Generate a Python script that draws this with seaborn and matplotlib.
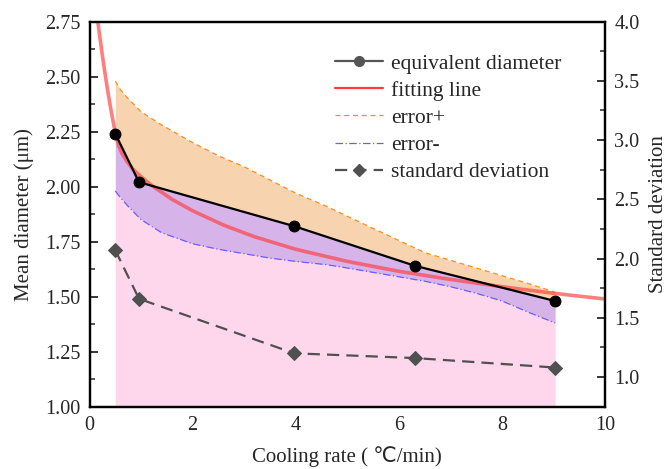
import numpy as np
import pandas as pd
import matplotlib
matplotlib.use("Agg")
import matplotlib.pyplot as plt
import seaborn as sns
from matplotlib.lines import Line2D
from matplotlib.ticker import MultipleLocator, FormatStrFormatter

# ---- data ----
cooling_rate = [0.5, 0.96, 3.97, 6.31, 9.03]
mean_diameter = [2.24, 2.02, 1.82, 1.64, 1.48]
std_dev = [2.07, 1.66, 1.20, 1.16, 1.08]

fit_x = [0.16, 0.20, 0.25, 0.30, 0.35, 0.40, 0.45, 0.50, 0.56, 0.63, 0.72, 0.85,
         1.00, 1.15, 1.30, 1.60, 2.00, 2.60, 3.20, 4.00, 5.00, 6.00, 7.00, 8.00,
         9.00, 10.0]
fit_y = [2.75, 2.68, 2.595, 2.515, 2.44, 2.37, 2.305, 2.245, 2.19, 2.15, 2.116, 2.077,
         2.045, 2.015, 1.99, 1.942, 1.89, 1.825, 1.772, 1.715, 1.66, 1.615, 1.578, 1.545,
         1.515, 1.489]

err_x = [0.5, 0.6, 0.75, 1.0, 1.4, 2.0, 2.5, 3.0, 3.5, 4.0, 4.6, 5.0, 5.5,
         6.0, 6.5, 7.0, 7.5, 8.0, 8.5, 9.03]
err_plus = [2.48, 2.44, 2.40, 2.34, 2.28, 2.20, 2.14, 2.09, 2.03, 1.97, 1.91, 1.865, 1.81,
            1.755, 1.70, 1.665, 1.63, 1.595, 1.56, 1.52]
err_minus = [1.98, 1.95, 1.91, 1.85, 1.79, 1.74, 1.715, 1.695, 1.675, 1.66, 1.645, 1.63, 1.61,
             1.59, 1.57, 1.545, 1.515, 1.48, 1.43, 1.38]

legend_labels = ["equivalent diameter", "fitting line", "error+", "error-", "standard deviation"]

# ---- style ----
sns.set_style("ticks")
plt.rcParams["font.family"] = ["Liberation Serif", "DejaVu Sans"]
FS_TICK = 14.5
FS_LAB = 15
FS_LEG = 15.5

fig = plt.figure(figsize=(6.68, 4.69), dpi=100)
ax = fig.add_axes([0.134, 0.133, 0.772, 0.821])

# fills
diam_on_err = np.interp(err_x, cooling_rate, mean_diameter)
ax.fill_between(err_x, diam_on_err, err_plus, color="#F8D3B0", lw=0, zorder=1)
ax.fill_between(err_x, err_minus, diam_on_err, color="#D6B4EA", lw=0, zorder=1)
ax.fill_between(err_x, 1.0, err_minus, color="#FFD7EC", lw=0, zorder=1)

ERR_P_STYLE = (0, (4, 3))
ERR_M_STYLE = (0, (6, 2, 1, 2))
STD_STYLE = (0, (5.5, 3.2))

df_err = pd.DataFrame({"x": err_x, "plus": err_plus, "minus": err_minus})
sns.lineplot(data=df_err, x="x", y="plus", ax=ax, color="#FF8C1A", lw=0.9,
             linestyle=ERR_P_STYLE, zorder=2, sort=False)
sns.lineplot(data=df_err, x="x", y="minus", ax=ax, color="#6A5CFF", lw=0.9,
             linestyle=ERR_M_STYLE, zorder=2, sort=False)

df_fit = pd.DataFrame({"x": fit_x, "y": fit_y})
sns.lineplot(data=df_fit, x="x", y="y", ax=ax, color="#FF3B3B", alpha=0.65, lw=2.6,
             zorder=3, sort=False)

df_d = pd.DataFrame({"x": cooling_rate, "d": mean_diameter, "s": std_dev})
sns.lineplot(data=df_d, x="x", y="d", ax=ax, color="black", lw=1.6, marker="o",
             markersize=7.8, markeredgecolor="black", zorder=4, sort=False)

ax.set_xlim(0, 10)
ax.set_ylim(1.0, 2.75)
ax.xaxis.set_major_locator(MultipleLocator(2))
ax.xaxis.set_minor_locator(MultipleLocator(1))
ax.yaxis.set_major_locator(MultipleLocator(0.25))
ax.yaxis.set_minor_locator(MultipleLocator(0.125))
ax.yaxis.set_major_formatter(FormatStrFormatter("%.2f"))
ax.set_xlabel("Cooling rate ( \u2103/min)", fontsize=FS_LAB, labelpad=8)
ax.set_ylabel("Mean diameter (\u03bcm)", fontsize=FS_LAB, labelpad=8)

ax2 = ax.twinx()
sns.lineplot(data=df_d, x="x", y="s", ax=ax2, color="#505050", lw=1.6,
             linestyle=STD_STYLE, marker="D", markersize=7, markeredgecolor="#505050",
             sort=False)
ax2.set_ylim(0.75, 4.0)
ax2.yaxis.set_major_locator(MultipleLocator(0.5))
ax2.yaxis.set_minor_locator(MultipleLocator(0.25))
ax2.yaxis.set_major_formatter(FormatStrFormatter("%.1f"))
ax2.set_ylabel("Standard deviation", fontsize=FS_LAB, labelpad=7)
ax2.set_xlabel("")

for a in (ax, ax2):
    for s in a.spines.values():
        s.set_linewidth(1.6)
        s.set_color("black")
        s.set_visible(True)
    a.tick_params(which="major", direction="in", length=6, width=1.3,
                  labelsize=FS_TICK, pad=6.5)
    a.tick_params(which="minor", direction="in", length=3.5, width=1.1)
ax.tick_params(axis="both", which="both", top=False, right=False)
ax2.tick_params(axis="y", which="both", left=False, right=True)

handles = [
    Line2D([], [], color="#555555", lw=1.6, marker="o", markersize=7),
    Line2D([], [], color="#FF3B3B", lw=1.6),
    Line2D([], [], color="#FF8C1A", lw=0.9, linestyle=ERR_P_STYLE),
    Line2D([], [], color="#6A5CFF", lw=0.9, linestyle=ERR_M_STYLE),
    Line2D([], [], color="#505050", lw=1.6, linestyle=STD_STYLE, marker="D", markersize=6),
]
ax2.legend(handles, legend_labels, loc="upper left", bbox_to_anchor=(0.476, 0.917),
           frameon=False, fontsize=FS_LEG, handlelength=2.25, labelspacing=0.33,
           handletextpad=0.35, borderaxespad=0, borderpad=0)

fig.savefig("out.png", dpi=100)
